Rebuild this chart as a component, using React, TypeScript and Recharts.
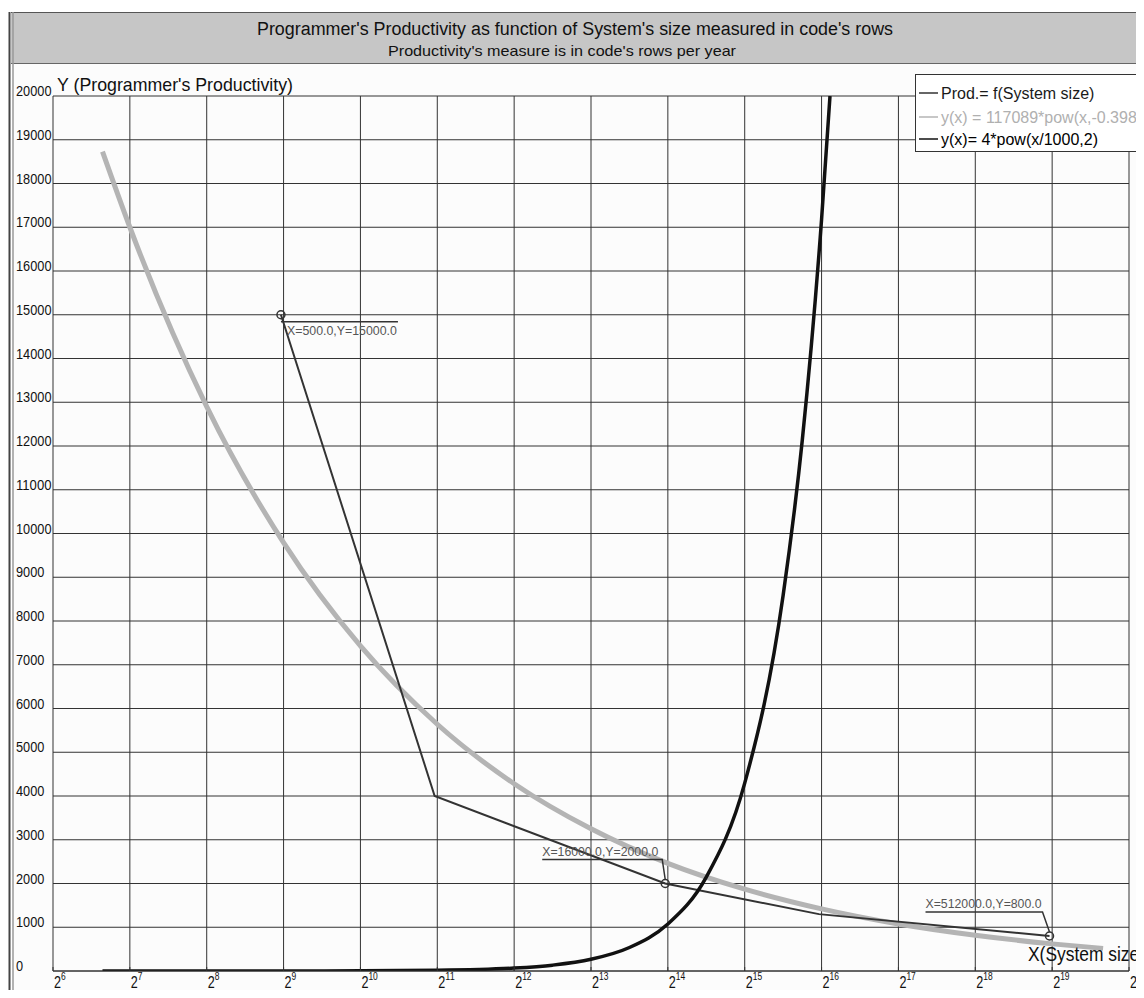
import React from 'react';
import { LineChart, Line, XAxis, YAxis, CartesianGrid, Legend } from 'recharts';

const FONT = "'Liberation Sans', Arial, sans-serif";

const titleText = "Programmer's Productivity as function of System's size measured in code's rows";
const subtitleText = "Productivity's measure is in code's rows per year";
const yAxisTitle = "Y (Programmer's Productivity)";
const xAxisTitle = "X(System size)";

// Series 1: Prod.= f(System size)
const prodX = [500, 2000, 16000, 64000, 512000];
const prodY = [15000, 4000, 2000, 1300, 800];
const prodLabels = ['X=500.0,Y=15000.0', '', 'X=16000.0,Y=2000.0', '', 'X=512000.0,Y=800.0'];

// Series 2: y(x) = 117089*pow(x,-0.398)
const fitX = [100, 128, 256, 512, 1024, 2048, 4096, 8192, 16384, 32768, 65536, 131072, 262144, 524288, 830000];
const fitY = [18730, 17000, 12900, 9790, 7430, 5640, 4280, 3250, 2460, 1870, 1420, 1075, 817, 620, 517];

// Series 3: y(x)= 4*pow(x/1000,2)
const quadX = [100, 128, 256, 512, 1024, 2048, 4096, 5793, 8192, 11585, 16384, 23170, 32768, 46341, 55109, 65536, 70711];
const quadY = [0.04, 0.07, 0.26, 1.05, 4.2, 16.8, 67, 134, 268, 537, 1074, 2147, 4295, 8590, 12148, 17180, 20000];

const xTickExps = [6, 7, 8, 9, 10, 11, 12, 13, 14, 15, 16, 17, 18, 19, 20];
const xTicks = xTickExps.map((e) => Math.pow(2, e));
const yTicks = [0, 1000, 2000, 3000, 4000, 5000, 6000, 7000, 8000, 9000, 10000, 11000, 12000, 13000, 14000, 15000, 16000, 17000, 18000, 19000, 20000];

const legendLabels = ['Prod.= f(System size)', 'y(x) = 117089*pow(x,-0.398)', 'y(x)= 4*pow(x/1000,2)'];
const legendColors = ['#333333', '#b4b4b4', '#111111'];
const legendTextColors = ['#1a1a1a', '#b0b0b0', '#000000'];

const prodData = prodX.map((x, i) => ({ x, y: prodY[i], label: prodLabels[i] }));
const fitData = fitX.map((x, i) => ({ x, y: fitY[i] }));
const quadData = quadX.map((x, i) => ({ x, y: quadY[i] }));

const XTick = (props: any) => {
  const { x, y, payload } = props;
  const exp = String(Math.round(Math.log2(payload.value)));
  return (
    <g>
      <line x1={x} x2={x} y1={y - 4} y2={y} stroke="#333" />
      <text x={x + 1} y={y + 17} fontSize={16} fontFamily={FONT} fill="#111" textLength={7} lengthAdjust="spacingAndGlyphs">2</text>
      <text x={x + 8} y={y + 9} fontSize={11} fontFamily={FONT} fill="#111" textLength={exp.length * 4.7} lengthAdjust="spacingAndGlyphs">{exp}</text>
    </g>
  );
};

const YTick = (props: any) => {
  const { y, payload } = props;
  const s = String(payload.value);
  return (
    <text x={16} y={y} fontSize={15} fontFamily={FONT} fill="#111" textAnchor="start" textLength={s.length * 7.1} lengthAdjust="spacingAndGlyphs">
      {s}
    </text>
  );
};

const renderProdDot = (props: any) => {
  const { cx, cy, index, payload } = props;
  const label = payload && payload.label;
  if (!label) return <g key={`d${index}`} />;
  const common = { fontSize: 13, fontFamily: FONT, fill: '#555' };
  if (index === 0) {
    return (
      <g key={`d${index}`}>
        <circle cx={cx} cy={cy} r={4} fill="none" stroke="#333" strokeWidth={1.5} />
        <line x1={cx} x2={cx + 117} y1={cy + 7} y2={cy + 7} stroke="#333" strokeWidth={1.5} />
        <text x={cx + 6} y={cy + 20} textLength={110} lengthAdjust="spacingAndGlyphs" {...common}>{label}</text>
      </g>
    );
  }
  const w = label.length > 18 ? 118 : 116;
  const left = index === 4 ? cx - 124 : cx - 123;
  const ulEnd = index === 4 ? cx - 7 : cx - 3;
  return (
    <g key={`d${index}`}>
      <circle cx={cx} cy={cy} r={4} fill="none" stroke="#333" strokeWidth={1.5} />
      <text x={left} y={cy - 28} textLength={w} lengthAdjust="spacingAndGlyphs" {...common}>{label}</text>
      <polyline points={`${left},${cy - 24} ${ulEnd},${cy - 24} ${cx},${cy - 4}`} fill="none" stroke="#333" strokeWidth={1.5} />
    </g>
  );
};

const LegendBox = () => (
  <div style={{ width: 240, height: 78, background: '#fff', border: '1px solid #333', boxSizing: 'border-box' }}>
    <svg width={238} height={76} style={{ display: 'block' }}>
      {legendLabels.map((lab, i) => {
        const cy = [18, 42, 64][i];
        return (
          <g key={lab}>
            <line x1={3} x2={22} y1={cy} y2={cy} stroke={legendColors[i]} strokeWidth={1.5} />
            <text x={25} y={cy + 6} fontSize={16} fontFamily={FONT} fill={legendTextColors[i]}>{lab}</text>
          </g>
        );
      })}
    </svg>
  </div>
);

export default function App() {
  return (
    <div style={{ margin: -8, width: 1144, height: 998, overflow: 'hidden', position: 'relative', background: '#fff' }}>
      <svg width={1144} height={998} style={{ position: 'absolute', left: 0, top: 0 }}>
        <rect x={0} y={0} width={1144} height={998} fill="#ffffff" />
        <rect x={14} y={63} width={1130} height={935} fill="#fcfcfc" />
        <rect x={11} y={12} width={1133} height={51} fill="#c6c6c6" />
        <line x1={11} x2={1144} y1={12.5} y2={12.5} stroke="#555" />
        <line x1={11} x2={1144} y1={63.5} y2={63.5} stroke="#666" />
        <line x1={9.5} x2={9.5} y1={12} y2={998} stroke="#444" strokeWidth={2} />
        <line x1={13} x2={13} y1={12} y2={998} stroke="#999" strokeWidth={1.5} />
        <text x={575} y={35} textAnchor="middle" fontSize={18} fontFamily={FONT} fill="#111" textLength={636} lengthAdjust="spacingAndGlyphs">{titleText}</text>
        <text x={562} y={56} textAnchor="middle" fontSize={15} fontFamily={FONT} fill="#111" textLength={348} lengthAdjust="spacingAndGlyphs">{subtitleText}</text>
        <text x={57} y={91} fontSize={19} fontFamily={FONT} fill="#111" textLength={236} lengthAdjust="spacingAndGlyphs">{yAxisTitle}</text>
      </svg>
      <div style={{ position: 'absolute', left: 0, top: 0 }}>
        <LineChart width={1144} height={998} margin={{ top: 96, right: 15, bottom: 26, left: 52 }}>
          <CartesianGrid stroke="#333333" strokeWidth={1} />
          <XAxis
            dataKey="x"
            type="number"
            scale="log"
            domain={[64, 1048576]}
            ticks={xTicks}
            interval={0}
            allowDataOverflow
            height={1}
            tickSize={0}
            tickMargin={0}
            axisLine={{ stroke: '#333' }}
            tickLine={false}
            tick={XTick}
          />
          <YAxis
            type="number"
            domain={[0, 20000]}
            ticks={yTicks}
            interval={0}
            allowDataOverflow
            width={1}
            axisLine={false}
            tickLine={false}
            tick={YTick}
          />
          <Legend
            layout="vertical"
            align="center"
            verticalAlign="middle"
            wrapperStyle={{ position: 'absolute', left: 915, top: 74, width: 240, height: 78 }}
            content={() => <LegendBox />}
          />
          <Line data={fitData} dataKey="y" type="monotone" stroke="#b4b4b4" strokeWidth={5} dot={false} activeDot={false} isAnimationActive={false} />
          <Line data={prodData} dataKey="y" type="linear" stroke="#333333" strokeWidth={2} dot={renderProdDot} activeDot={false} isAnimationActive={false} />
          <Line data={quadData} dataKey="y" type="monotone" stroke="#111111" strokeWidth={3.5} dot={false} activeDot={false} isAnimationActive={false} />
        </LineChart>
      </div>
      <svg width={1144} height={998} style={{ position: 'absolute', left: 0, top: 0, pointerEvents: 'none' }}>
        <text x={1028} y={961} fontSize={21} fontFamily={FONT} fill="#111" textLength={117} lengthAdjust="spacingAndGlyphs">{xAxisTitle}</text>
      </svg>
    </div>
  );
}
